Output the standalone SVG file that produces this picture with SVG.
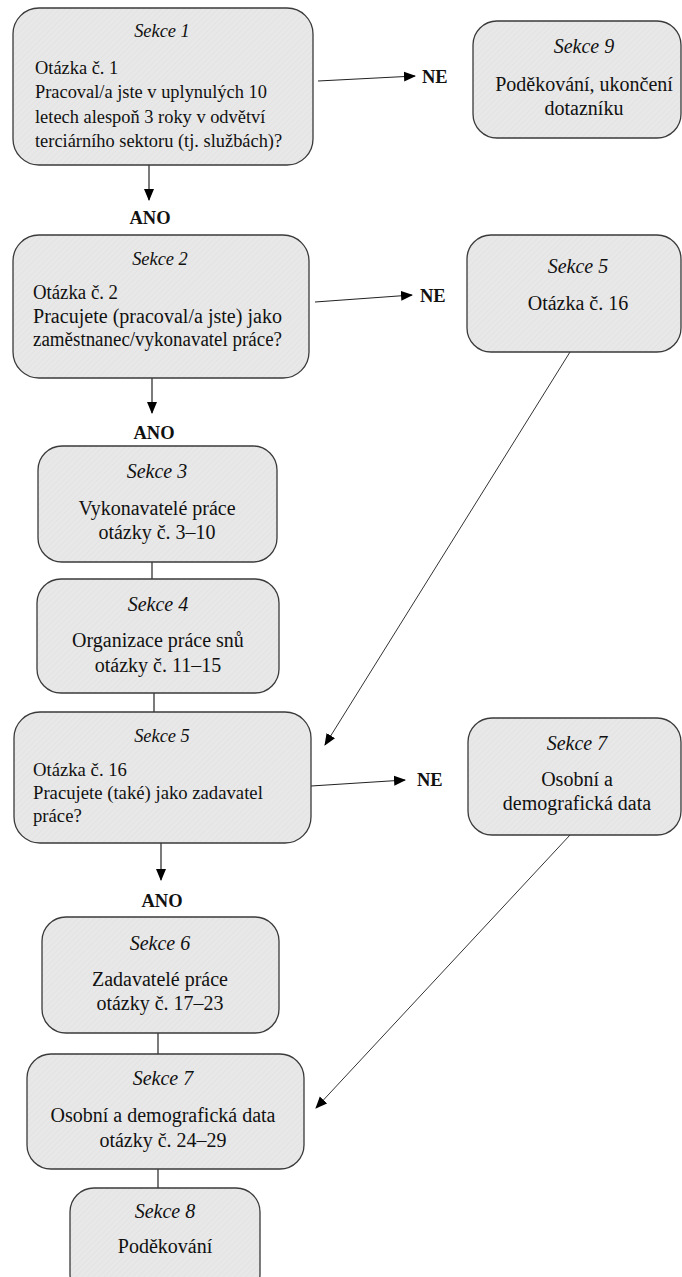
<svg xmlns="http://www.w3.org/2000/svg" width="682" height="1277" viewBox="0 0 682 1277">
<style>
.box{fill:url(#hatch);stroke:#3a3a3a;stroke-width:1.3}
.t{font-family:'Liberation Serif','Times New Roman',serif;font-size:20px;fill:#111}
.s{font-size:18.4px}
.i{font-style:italic}
.c{text-anchor:middle}
.b{font-weight:bold;font-size:18.5px}
.conn{stroke:#222;stroke-width:1.2;fill:none}
.thin{stroke:#333;stroke-width:1}
</style>
<defs>
<pattern id="hatch" width="4" height="4" patternUnits="userSpaceOnUse" patternTransform="rotate(45)">
<rect width="4" height="4" fill="#e8e8e8"/>
<line x1="0" y1="0" x2="0" y2="4" stroke="#dedede" stroke-width="1"/>
</pattern>
<marker id="arr" markerUnits="userSpaceOnUse" markerWidth="12" markerHeight="12" refX="11" refY="5" orient="auto" viewBox="0 0 12 10">
<path d="M0,0 L12,5 L0,10 z" fill="#000"/>
</marker>
</defs>
<rect width="682" height="1277" fill="#fff"/>

<g id="connectors">
<line class="conn" x1="149" y1="165" x2="149" y2="200" marker-end="url(#arr)"/>
<line class="conn" x1="318" y1="81" x2="415" y2="76" marker-end="url(#arr)"/>
<line class="conn" x1="152" y1="378" x2="152" y2="413" marker-end="url(#arr)"/>
<line class="conn" x1="315" y1="302" x2="412" y2="295" marker-end="url(#arr)"/>
<line class="conn" x1="152" y1="562" x2="152" y2="579"/>
<line class="conn" x1="154" y1="693" x2="154" y2="712"/>
<line class="conn thin" x1="570" y1="352" x2="325" y2="745" marker-end="url(#arr)"/>
<line class="conn" x1="161" y1="843" x2="161" y2="880" marker-end="url(#arr)"/>
<line class="conn" x1="311" y1="786" x2="405" y2="780" marker-end="url(#arr)"/>
<line class="conn thin" x1="570" y1="835" x2="316" y2="1108" marker-end="url(#arr)"/>
<line class="conn" x1="158" y1="1033" x2="158" y2="1054"/>
<line class="conn" x1="158" y1="1169" x2="158" y2="1188"/>
<text class="t b" x="422" y="83">NE</text>
<text class="t b c" x="150" y="224">ANO</text>
<text class="t b" x="420" y="302">NE</text>
<text class="t b c" x="154" y="439">ANO</text>
<text class="t b" x="417" y="786">NE</text>
<text class="t b c" x="162" y="907">ANO</text>
</g>

<g id="sekce1">
<rect class="box" x="13" y="8" width="300" height="157" rx="26"/>
<text class="t s i c" x="162" y="37">Sekce 1</text>
<text class="t s" x="35" y="74">Otázka č. 1</text>
<text class="t s" x="35" y="98">Pracoval/a jste v uplynulých 10</text>
<text class="t s" x="35" y="123">letech alespoň 3 roky v odvětví</text>
<text class="t s" x="35" y="147">terciárního sektoru (tj. službách)?</text>
</g>

<g id="sekce9">
<rect class="box" x="473" y="21" width="208" height="117" rx="24"/>
<text class="t i c" x="584" y="53">Sekce 9</text>
<text class="t c" x="584" y="91">Poděkování, ukončení</text>
<text class="t c" x="584" y="115">dotazníku</text>
</g>

<g id="sekce2">
<rect class="box" x="13" y="235" width="296" height="143" rx="26"/>
<text class="t s i c" x="160" y="265">Sekce 2</text>
<text class="t" x="33" y="299" textLength="85" lengthAdjust="spacingAndGlyphs">Otázka č. 2</text>
<text class="t" x="33" y="323" textLength="249" lengthAdjust="spacingAndGlyphs">Pracujete (pracoval/a jste) jako</text>
<text class="t" x="33" y="346" textLength="249" lengthAdjust="spacingAndGlyphs">zaměstnanec/vykonavatel práce?</text>
</g>

<g id="sekce5a">
<rect class="box" x="467" y="235" width="214" height="117" rx="24"/>
<text class="t i c" x="578" y="273">Sekce 5</text>
<text class="t c" x="578" y="310">Otázka č. 16</text>
</g>

<g id="sekce3">
<rect class="box" x="38" y="446" width="239" height="116" rx="24"/>
<text class="t i c" x="157" y="478">Sekce 3</text>
<text class="t c" x="157" y="515">Vykonavatelé práce</text>
<text class="t c" x="157" y="539">otázky č. 3–10</text>
</g>

<g id="sekce4">
<rect class="box" x="37" y="579" width="242" height="114" rx="24"/>
<text class="t i c" x="158" y="611">Sekce 4</text>
<text class="t c" x="158" y="647">Organizace práce snů</text>
<text class="t c" x="158" y="672">otázky č. 11–15</text>
</g>

<g id="sekce5">
<rect class="box" x="14" y="712" width="297" height="131" rx="26"/>
<text class="t s i c" x="162" y="742">Sekce 5</text>
<text class="t" x="33" y="776" style="font-size:18.7px">Otázka č. 16</text>
<text class="t" x="33" y="799" style="font-size:18.7px">Pracujete (také) jako zadavatel</text>
<text class="t" x="33" y="822" style="font-size:18.7px">práce?</text>
</g>

<g id="sekce7a">
<rect class="box" x="468" y="718" width="213" height="117" rx="24"/>
<text class="t i c" x="577" y="750">Sekce 7</text>
<text class="t c" x="577" y="786">Osobní a</text>
<text class="t c" x="577" y="810">demografická data</text>
</g>

<g id="sekce6">
<rect class="box" x="42" y="917" width="237" height="116" rx="24"/>
<text class="t i c" x="160" y="950">Sekce 6</text>
<text class="t c" x="160" y="986">Zadavatelé práce</text>
<text class="t c" x="160" y="1010">otázky č. 17–23</text>
</g>

<g id="sekce7">
<rect class="box" x="27" y="1054" width="277" height="115" rx="24"/>
<text class="t i c" x="163" y="1085">Sekce 7</text>
<text class="t c" x="163" y="1122">Osobní a demografická data</text>
<text class="t c" x="163" y="1147">otázky č. 24–29</text>
</g>

<g id="sekce8">
<rect class="box" x="70" y="1188" width="190" height="110" rx="24"/>
<text class="t i c" x="165" y="1218">Sekce 8</text>
<text class="t c" x="165" y="1253">Poděkování</text>
</g>
</svg>
